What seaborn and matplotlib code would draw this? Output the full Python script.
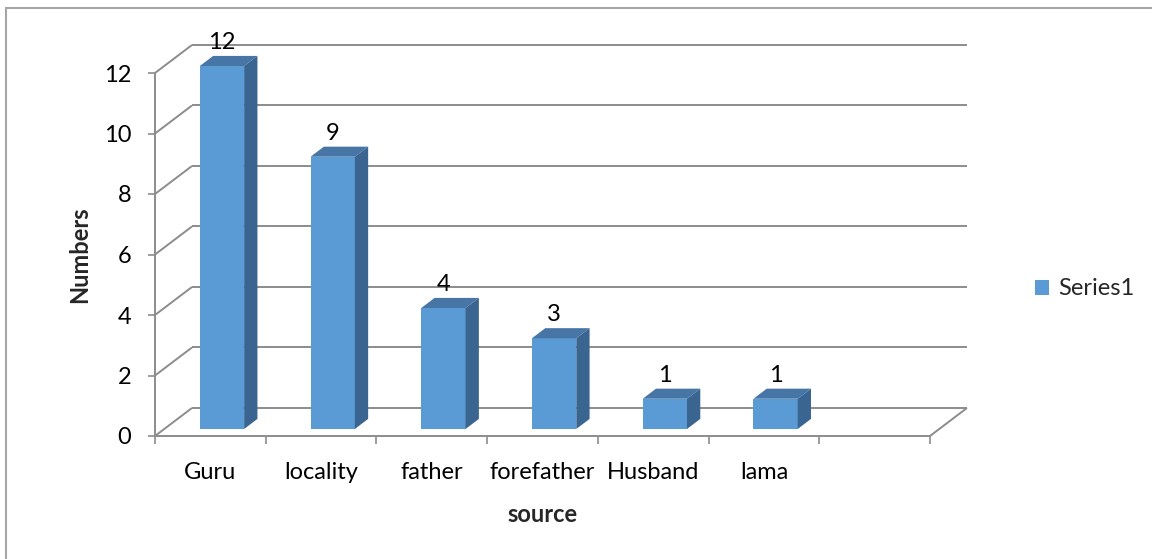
import matplotlib
matplotlib.use("Agg")
import matplotlib.pyplot as plt
import seaborn as sns
from matplotlib.patches import Polygon, Rectangle

# ---- data -------------------------------------------------------------
sources = ["Guru", "locality", "father", "forefather", "Husband", "lama"]
numbers = [12, 9, 4, 3, 1, 1]
y_ticks = [0, 2, 4, 6, 8, 10, 12]
series_name = "Series1"
n_slots = 7          # the category axis carries one empty trailing slot

# ---- style ------------------------------------------------------------
sns.set_theme(style="white")
plt.rcParams["font.family"] = ["Lato", "DejaVu Sans"]

FRONT = "#5B9BD5"
TOP = "#4675A6"
SIDE = "#3A6590"
GRID = "#8C8C8C"
AXIS = "#8C8C8C"
FS = 17

W, H = 1152, 559
fig = plt.figure(figsize=(W / 100, H / 100), dpi=100)
ax = fig.add_axes([155 / W, (H - 436) / H, 775 / W, 363 / H])

# depth of the pseudo-3D box (data units) and bar placement within it
DX, DY = 0.334, 0.926
F0, FD = 0.25, 0.36   # bar front depth fraction, bar depth fraction
BAR_SHIFT = 0.105     # horizontal offset of the bar front from slot centre

# ---- bars (front faces) -----------------------------------------------
sns.barplot(x=sources, y=numbers, color=FRONT, saturation=1, width=0.4,
            ax=ax, zorder=3, edgecolor="none")

x_lo, x_hi = -0.5, n_slots - 0.5
y_hi = max(y_ticks)
ax.set_xlim(x_lo, x_hi)
ax.set_ylim(0, y_hi)
for s in ax.spines.values():
    s.set_visible(False)

# ---- back wall, side wall, floor --------------------------------------
lk = dict(color=GRID, lw=1.4, clip_on=False, zorder=1, solid_capstyle="butt")
for v in y_ticks:
    ax.plot([x_lo + DX, x_hi + DX], [v + DY, v + DY], **lk)
    ax.plot([x_lo, x_lo + DX], [v, v + DY], **lk)
ax.plot([x_hi, x_hi + DX], [0, DY], **lk)
ax.plot([x_lo, x_hi], [0, 0], **lk)
ax.plot([x_lo, x_lo], [0, y_hi], **lk)

# ---- 3D faces for every bar + value labels ----------------------------
ddx, ddy = FD * DX, FD * DY
for patch, val in zip(ax.patches, numbers):
    patch.set_x(patch.get_x() + BAR_SHIFT)
    patch.set_y(patch.get_y() + F0 * DY)
    patch.set_clip_on(False)
    x0 = patch.get_x()
    x1 = x0 + patch.get_width()
    y0 = patch.get_y()
    y1 = y0 + patch.get_height()
    ax.add_patch(Polygon([(x0, y1), (x1, y1), (x1 + ddx, y1 + ddy),
                          (x0 + ddx, y1 + ddy)], closed=True,
                         facecolor=TOP, edgecolor="none", zorder=3,
                         clip_on=False))
    ax.add_patch(Polygon([(x1, y0), (x1 + ddx, y0 + ddy),
                          (x1 + ddx, y1 + ddy), (x1, y1)], closed=True,
                         facecolor=SIDE, edgecolor="none", zorder=3,
                         clip_on=False))
    ax.annotate(f"{val:g}", xy=((x0 + x1) / 2, y1 + ddy),
                xytext=(0, 5), textcoords="offset points",
                ha="center", va="baseline", fontsize=FS, color="black",
                zorder=4, annotation_clip=False)

# ---- ticks ------------------------------------------------------------
ax.set_yticks(y_ticks)
ax.set_yticklabels([str(t) for t in y_ticks])
ax.tick_params(axis="y", which="major", direction="out", length=5,
               width=1.2, color=AXIS, pad=12, labelsize=FS,
               labelcolor="black", left=True)
ax.set_xticks(range(len(sources)))
ax.set_xticklabels(sources)
ax.set_xticks([x_lo + i for i in range(n_slots + 1)], minor=True)
ax.tick_params(axis="x", which="major", length=0, pad=19, labelsize=FS,
               labelcolor="black")
ax.tick_params(axis="x", which="minor", direction="out", length=6,
               width=1.2, color=AXIS, bottom=True)
ax.set_xlabel("")
ax.set_ylabel("")

# ---- axis titles --------------------------------------------------------
fig.text(80 / W, 1 - 255 / H, "Numbers", rotation=90, ha="center",
         va="center", fontsize=FS, fontweight="bold")
fig.text(543 / W, 1 - 514 / H, "source", ha="center", va="center",
         fontsize=FS, fontweight="bold")

# ---- legend -----------------------------------------------------------
handle = Rectangle((0, 0), 1, 1, facecolor=FRONT, edgecolor="none")
fig.legend([handle], [series_name], loc="center left",
           bbox_to_anchor=(1035 / W, 1 - 289 / H), frameon=False,
           handlelength=0.6, handleheight=0.6, handletextpad=0.4,
           fontsize=FS, borderaxespad=0, borderpad=0)

# ---- chart border -------------------------------------------------------
fig.patches.append(Rectangle((6 / W, -0.1), 1.2, 1.1 - 8 / H,
                             transform=fig.transFigure, fill=False,
                             edgecolor="#A6A6A6", lw=1.5))

fig.savefig("out.png", dpi=100)
